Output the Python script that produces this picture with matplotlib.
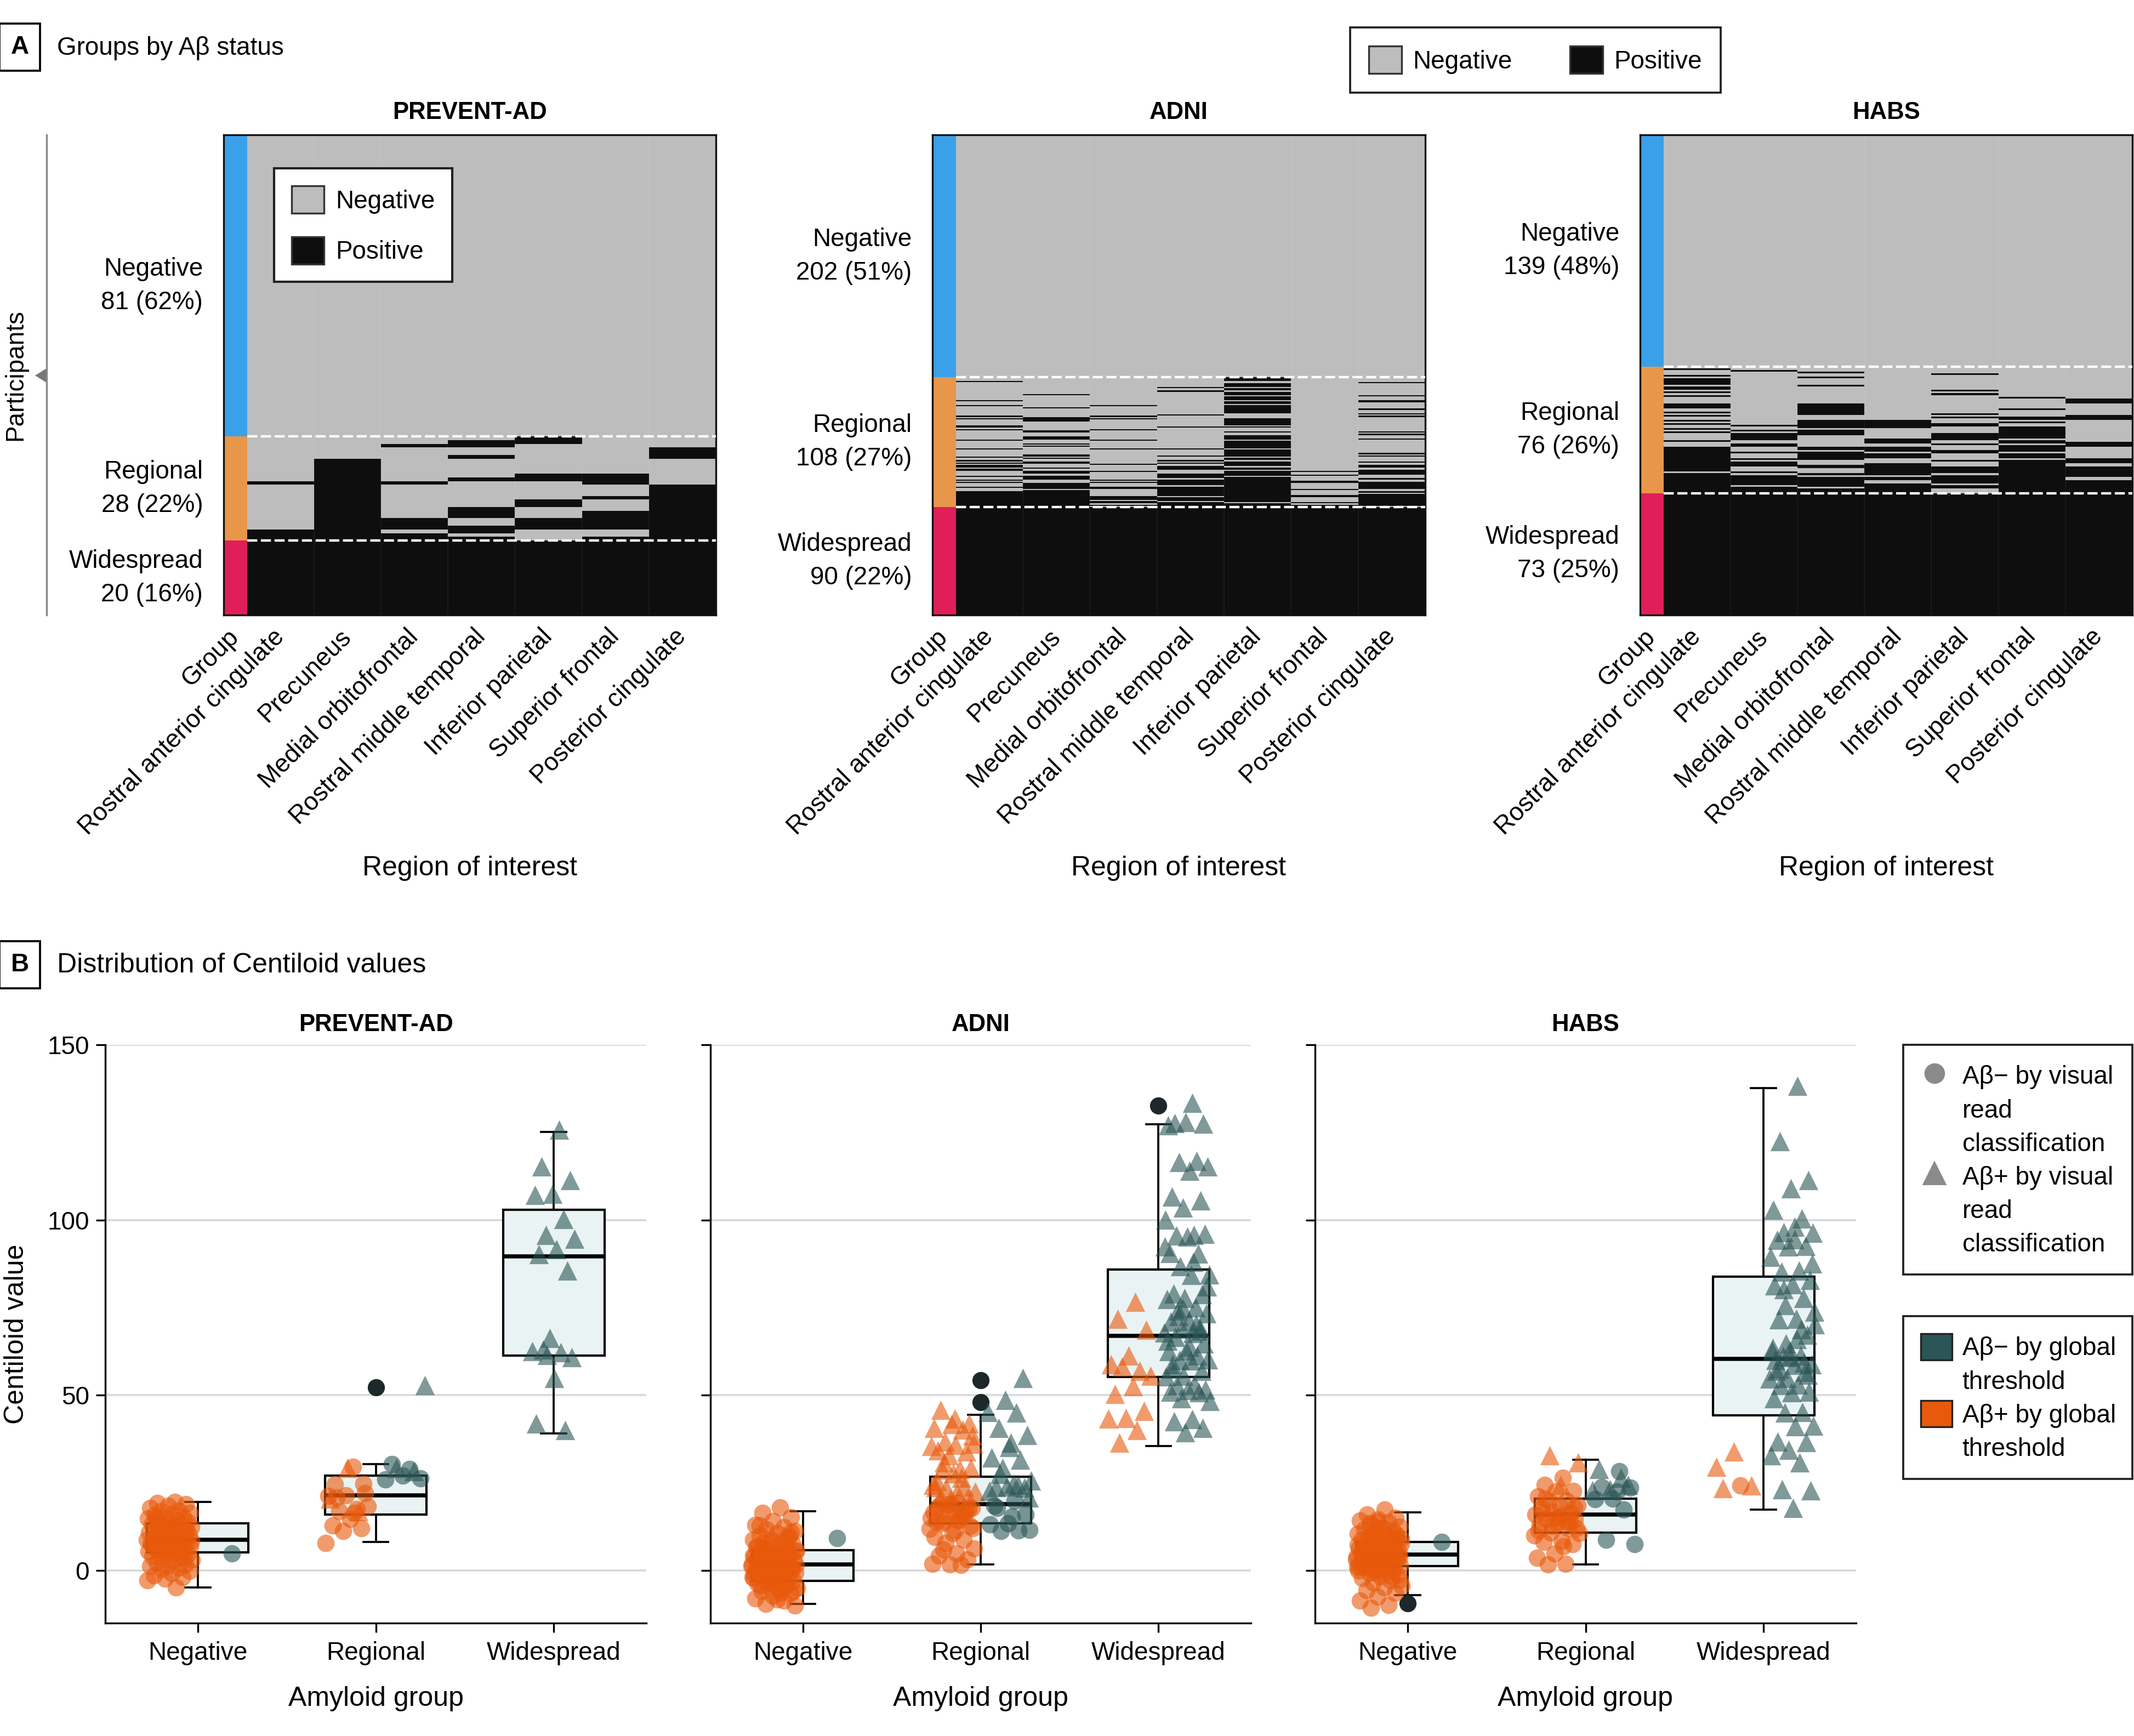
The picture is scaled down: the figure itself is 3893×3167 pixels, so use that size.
import numpy as np
import matplotlib
matplotlib.use("Agg")
import matplotlib.pyplot as plt
import matplotlib.transforms as mtransforms
from matplotlib.colors import ListedColormap, BoundaryNorm
from matplotlib.patches import Patch, Polygon
from matplotlib.lines import Line2D

# ======================= DATA =======================
REGIONS = ["Rostral anterior cingulate", "Precuneus", "Medial orbitofrontal",
           "Rostral middle temporal", "Inferior parietal", "Superior frontal",
           "Posterior cingulate"]
HEAT_XLABELS = ["Group"] + REGIONS
AMYLOID_GROUPS = ["Negative", "Regional", "Widespread"]
COHORTS = ["PREVENT-AD", "ADNI", "HABS"]

# participants per amyloid group and the printed percentages
PA_GROUP_N = [81, 28, 20]
PA_GROUP_PCT = [62, 22, 16]
AD_GROUP_N = [202, 108, 90]
AD_GROUP_PCT = [51, 27, 22]
HB_GROUP_N = [139, 76, 73]
HB_GROUP_PCT = [48, 26, 25]

# Regional-group rows (0 = first regional participant) that are positive, per region
PA_REGIONAL_POS = [
    [12, (25, 27)],
    [(6, 27)],
    [2, 12, (22, 24), (26, 27)],
    [(1, 2), 5, 11, (19, 21), (24, 25), 27],
    [(0, 1), (10, 11), (17, 18), (22, 24)],
    [(10, 12), 16, (20, 24), 27],
    [(3, 5), (13, 27)],
]
AD_REGIONAL_POS = [
    [3, 19, 23, 32, 34, (40, 41), 43, 52, 59, 66, 69, 71, 73, 74, (76, 77), 82, 85, 87, 91, (95, 107)],
    [14, 25, (33, 36), (44, 45), (49, 51), 55, 57, (64, 65), 67, (70, 71), 75, (78, 79), (82, 84),
     (88, 92), (94, 107)],
    [23, 32, 34, 43, 52, 59, 72, 78, 85, 87, (91, 92), (99, 101), (103, 104), 106],
    [8, 11, 31, 41, 59, 65, 69, 71, (74, 76), (80, 83), (85, 89), (91, 98), (100, 102), (104, 107)],
    [(0, 2), (5, 7), (9, 10), (12, 14), (16, 18), (20, 21), (23, 29), (34, 39), 41, 45, (48, 51),
     (53, 58), (60, 65), (67, 68), (70, 73), (75, 76), (78, 81), (83, 103), (105, 107)],
    [78, 81, 86, 87, 93, (98, 99), 104, (106, 107)],
    [4, 15, (19, 20), 26, 30, 32, 45, 47, 51, 63, 65, 70, (73, 74), (77, 80), 84, (87, 92), 95, (97, 106)],
]
HB_REGIONAL_POS = [
    [1, 5, (7, 10), (12, 13), 15, 17, (22, 24), 27, 29, 32, 34, 37, 39, 44, (48, 62), (64, 75)],
    [2, 35, 38, (40, 43), (46, 47), 51, 55, (57, 59), 63, (65, 70), (72, 75)],
    [3, 6, 11, (22, 28), (32, 36), (38, 40), (48, 49), (51, 55), (59, 60), 64, (66, 71), (73, 75)],
    [(32, 36), (43, 45), (48, 50), (52, 54), (58, 64), (66, 67), (70, 75)],
    [4, 14, 16, 28, 30, (34, 35), (40, 43), 46, (50, 51), 56, (60, 63), (65, 69), (71, 72)],
    [18, 25, (30, 31), 33, (36, 42), (44, 45), (47, 50), (52, 54), (56, 75)],
    [(19, 21), (29, 31), (45, 47), (55, 57), (60, 65), (68, 75)],
]

# ---- Centiloid values (OC/OT: orange circle/triangle, TC/TT: teal circle/triangle) ----
PA_NEG_OC = [19.6, 19.2, 18.9, 18.4, 17.8, 17.1, 16.9, 16.5, 16.2, 15.8, 15.4, 15.1, 14.8, 14.4,
             14.1, 13.9, 13.5, 13.2, 12.9, 12.5, 12.3, 12.0, 11.7, 11.4, 11.0, 10.8, 10.5, 10.2,
             10.0, 9.7, 9.5, 9.2, 9.0, 8.8, 8.6, 8.3, 8.1, 7.9, 7.6, 7.4, 7.1, 6.9, 6.6, 6.3, 6.1,
             5.8, 5.5, 5.2, 5.0, 4.7, 4.4, 4.1, 3.7, 3.4, 3.0, 2.6, 2.2, 1.8, 1.5, 1.2, 0.8, 0.3,
             -0.2, -0.8, -1.4, -1.9, -2.4, -2.8, -4.8, 13.0, 11.2, 9.4, 7.7, 6.0, 10.1, 8.4, 12.7,
             15.0, 3.6, 5.4]
PA_NEG_TC = [4.9]
PA_REG_OC = [29.6, 24.5, 24.8, 21.5, 21.3, 17.6, 16.9, 18.3, 14.7, 12.9, 12.0, 11.3, 7.9, 16.4,
             20.8, 22.0]
PA_REG_OT = [29.3, 20.5, 16.9]
PA_REG_TC = [28.9, 30.4, 26.3, 27.1, 26.0]
PA_REG_TT = [28.3, 29.3, 52.8]
PA_WID_TT = [125.8, 115.3, 111.3, 107.5, 107.1, 100.2, 95.8, 94.7, 91.7, 90.3, 85.6, 66.3, 62.5,
             62.2, 63.0, 60.8, 54.9, 42.0, 40.0, 61.5]

AD_NEG_OC = [18.0, 16.5, 15.2, 14.1, 13.0, 12.4, 11.8, 11.2, 10.7, 10.1, 9.6, 9.2, 8.8, 8.3, 7.9,
             7.5, 7.1, 6.8, 6.4, 6.0, 5.7, 5.3, 5.0, 4.7, 4.4, 4.1, 3.8, 3.5, 3.2, 2.9, 2.6, 2.3,
             2.0, 1.8, 1.5, 1.2, 0.9, 0.6, 0.3, 0.0, -0.3, -0.6, -0.9, -1.2, -1.5, -1.8, -2.1,
             -2.4, -2.7, -3.0, -3.4, -3.8, -4.2, -4.6, -5.0, -5.5, -6.0, -6.6, -7.2, -7.9, -8.6,
             -9.5, -10.0, 1.0, 2.4, 3.3, -0.5, -1.9, 4.6, 5.9, 0.4, -3.2, 6.7, 7.8, -2.6, 1.6, 2.8,
             -4.4, 9.9, 8.5, -1.0, 0.2, 3.9, -5.8, -0.1, 2.1, 4.9, -3.6, 1.3, -6.4, 6.2, 11.0,
             -2.0, 3.0, -1.4, 0.7, 5.5, -8.2, 12.8, 2.5, -0.8, 4.3, -4.9]
AD_NEG_TC = [9.2]
AD_REG_OC = [19.2, 18.6, 17.5, 19.0, 16.6, 15.3, 14.0, 12.1, 11.4, 18.0, 17.0, 16.0, 15.0, 14.6,
             13.4, 12.7, 10.6, 9.5, 8.8, 7.8, 6.2, 4.9, 4.3, 3.2, 1.7, 1.9, 1.6, 6.0, 17.8, 16.3,
             13.9, 15.8, 18.8, 11.9, 14.3]
AD_REG_OT = [45.8, 42.0, 41.8, 40.6, 40.2, 36.8, 36.1, 35.9, 34.2, 34.0, 32.9, 35.5, 29.0, 28.8,
             29.3, 27.7, 23.8, 24.0, 23.5, 22.5, 22.3, 20.5, 20.8, 20.3, 24.4, 26.4, 30.8, 38.5,
             43.3, 25.5]
AD_REG_TC = [19.9, 17.9, 16.0, 13.4, 13.2, 11.4, 11.2, 11.6, 15.3, 18.5]
AD_REG_TT = [54.9, 48.7, 45.2, 45.0, 40.6, 38.7, 35.2, 32.2, 31.6, 29.2, 25.7, 24.8, 23.8, 23.6,
             24.0, 22.7, 24.4, 27.5, 20.8, 36.5]
AD_WID_OT = [76.6, 71.8, 68.6, 61.4, 58.8, 56.9, 58.2, 55.6, 52.6, 50.4, 45.6, 43.5, 43.3, 40.0,
             36.4]
AD_WID_TT = [133.5, 127.7, 127.5, 127.9, 127.0, 116.9, 116.5, 115.3, 114.0, 106.6, 105.6, 103.6,
             100.1, 95.8, 95.6, 96.0, 95.2, 90.6, 90.4, 86.8, 84.5, 84.3, 79.0, 78.8, 77.7, 77.5,
             75.1, 74.2, 73.4, 71.2, 71.0, 69.2, 69.0, 67.9, 67.7, 66.6, 64.7, 62.7, 62.5, 61.4,
             60.1, 60.3, 59.9, 58.8, 56.9, 55.6, 55.4, 53.0, 52.8, 51.7, 51.5, 51.0, 50.8, 49.1,
             48.4, 43.2, 42.6, 40.6, 39.4, 65.5, 70.3, 72.6, 81.0, 63.8, 57.5, 68.4, 74.8, 92.5,
             88.0]

HB_NEG_OC = [17.3, 16.0, 15.1, 14.6, 14.2, 13.7, 13.1, 12.6, 12.2, 11.8, 11.3, 10.9, 10.5, 10.1,
             9.8, 9.4, 9.0, 8.7, 8.3, 8.0, 7.7, 7.4, 7.1, 6.8, 6.5, 6.2, 5.9, 5.6, 5.3, 5.0, 4.8,
             4.5, 4.2, 3.9, 3.6, 3.3, 3.0, 2.7, 2.4, 2.1, 1.8, 1.5, 1.2, 0.9, 0.6, 0.3, 0.0, -0.4,
             -0.8, -1.2, -1.7, -2.2, -2.8, -3.5, -4.3, -4.9, -5.6, -6.4, -7.5, -8.6, -9.8, -10.6,
             4.0, 6.0, 2.9, 8.5, 5.2, 1.0, 3.4, 7.0, 10.2, 0.4, 4.7, 6.6, 2.2, 9.1, 12.0, 3.8, 5.7,
             -0.6, 1.4, 7.9, 13.5, 4.4, 2.6, 6.3, -1.5, 11.0, 3.1, 5.4, 0.8, 8.9, 14.0, 2.0, 4.1,
             9.6, -2.6, 6.9, 3.7, 1.1, 5.1, 7.3]
HB_NEG_TC = [8.2]
HB_REG_OC = [26.4, 24.4, 22.7, 22.5, 21.2, 19.9, 19.7, 18.6, 18.4, 16.6, 16.4, 16.8, 16.0, 15.8,
             14.7, 14.5, 13.4, 13.2, 12.1, 10.8, 10.6, 8.4, 8.2, 7.5, 4.9, 3.6, 1.9, 1.7, 12.0,
             15.3, 17.9, 14.0, 12.7, 10.1, 6.9, 20.5, 18.0, 15.0, 11.5, 13.8]
HB_REG_OT = [32.9, 30.9, 24.4]
HB_REG_TC = [28.3, 23.8, 23.6, 20.5, 20.3, 17.3, 8.8, 7.5, 22.5]
HB_REG_TT = [29.0, 24.4, 23.1, 22.9, 26.4]
HB_WID_OC = [24.2]
HB_WID_OT = [23.5, 24.2, 33.9, 29.6]
HB_WID_TT = [138.3, 122.5, 111.4, 109.1, 103.0, 100.4, 96.5, 96.3, 94.5, 94.3, 92.6, 92.4, 89.4,
             85.5, 85.3, 82.9, 81.6, 81.4, 77.7, 75.7, 73.8, 71.8, 71.6, 67.3, 62.7, 62.5, 61.4,
             61.2, 58.8, 58.6, 56.9, 56.7, 54.9, 54.7, 53.0, 52.8, 51.0, 50.8, 49.1, 45.2, 45.0,
             41.3, 41.1, 36.8, 36.6, 34.4, 32.9, 30.9, 23.1, 22.9, 17.9, 60.0, 59.3, 64.8, 70.2,
             66.0, 57.5, 55.8, 60.8, 63.5, 68.8, 80.2, 87.6, 98.0]

# ---- Box statistics per amyloid group (Negative, Regional, Widespread) ----
PA_BOX_Q1 = [5.2, 16.0, 61.3]
PA_BOX_MED = [8.8, 21.5, 89.6]
PA_BOX_Q3 = [13.5, 27.1, 102.9]
PA_BOX_LO = [-4.8, 8.1, 39.1]
PA_BOX_HI = [19.5, 30.3, 125.2]
PA_FLIERS = [[], [52.2], []]

AD_BOX_Q1 = [-2.9, 13.4, 55.3]
AD_BOX_MED = [1.7, 19.0, 66.9]
AD_BOX_Q3 = [5.8, 26.8, 85.8]
AD_BOX_LO = [-9.6, 1.7, 35.5]
AD_BOX_HI = [16.9, 44.5, 127.3]
AD_FLIERS = [[], [54.3, 48.1], [132.6]]

HB_BOX_Q1 = [1.3, 10.8, 44.3]
HB_BOX_MED = [4.5, 16.0, 60.4]
HB_BOX_Q3 = [8.1, 20.5, 83.8]
HB_BOX_LO = [-7.0, 1.7, 17.3]
HB_BOX_HI = [16.6, 31.6, 137.7]
HB_FLIERS = [[-9.4], [], []]

Y_TICKS = [0, 50, 100, 150]

# ======================= STYLE =======================
plt.rcParams["font.family"] = ["Liberation Sans", "DejaVu Sans"]
GRAY = "#BDBDBD"
BLACK = "#0E0E0E"
GROUP_COLORS = ["#3AA0E9", "#E8964A", "#E01E5A"]
ORANGE = "#E8590C"
TEAL = "#2B5556"
BOXFACE = "#EAF3F3"
FLIER = "#1C2829"

W, H, DPI = 3893, 3167, 300
fig = plt.figure(figsize=(W / DPI, H / DPI), dpi=DPI)


def px_axes(x0, y0, x1, y1):
    return fig.add_axes([x0 / W, 1 - y1 / H, (x1 - x0) / W, (y1 - y0) / H])


def fx(x):
    return x / W


def fy(y):
    return 1 - y / H


# ======================= PANEL A =======================
def build_matrix(counts, regional):
    n_neg, n_reg, n_wid = counts
    n = n_neg + n_reg + n_wid
    M = np.zeros((n, 8))
    M[:n_neg, 0] = 2
    M[n_neg:n_neg + n_reg, 0] = 3
    M[n_neg + n_reg:, 0] = 4
    M[n_neg + n_reg:, 1:] = 1
    for j, ivs in enumerate(regional):
        for iv in ivs:
            a, b = (iv, iv) if isinstance(iv, int) else iv
            M[n_neg + a:n_neg + b + 1, j + 1] = 1
    return M


cmap = ListedColormap([GRAY, BLACK] + GROUP_COLORS)
norm = BoundaryNorm([-0.5, 0.5, 1.5, 2.5, 3.5, 4.5], cmap.N)
GW = 0.35
x_edges = np.concatenate([[0.0], GW + np.arange(0, 8)])
x_centers = (x_edges[:-1] + x_edges[1:]) / 2

heat_specs = [
    (COHORTS[0], PA_GROUP_N, PA_GROUP_PCT, PA_REGIONAL_POS, 408, 1306),
    (COHORTS[1], AD_GROUP_N, AD_GROUP_PCT, AD_REGIONAL_POS, 1701, 2600),
    (COHORTS[2], HB_GROUP_N, HB_GROUP_PCT, HB_REGIONAL_POS, 2992, 3890),
]
heat_axes = []
for name, counts, pcts, regional, x0, x1 in heat_specs:
    ax = px_axes(x0, 246, x1, 1122)
    heat_axes.append(ax)
    M = build_matrix(counts, regional)
    n = M.shape[0]
    yy = np.arange(n + 1)
    ax.pcolormesh(x_edges, yy, M, cmap=cmap, norm=norm, shading="flat",
                  edgecolors="none", antialiased=False)
    ax.vlines(x_edges[2:-1], 0, n, colors=(1, 1, 1, 0.06), linewidth=0.4, zorder=2)
    b1 = counts[0]
    b2 = counts[0] + counts[1]
    ax.hlines([b1, b2], GW, x_edges[-1], colors="white", linewidth=1.05,
              linestyles=(0, (4.2, 1.5)), zorder=3)
    ax.set_xlim(0, x_edges[-1])
    ax.set_ylim(n, 0)
    ax.set_yticks([])
    ax.set_xticks(x_centers)
    ax.set_xticklabels(HEAT_XLABELS, rotation=45, ha="right", va="center",
                       rotation_mode="anchor", fontsize=11)
    ax.tick_params(axis="x", length=0, pad=8)
    for s in ax.spines.values():
        s.set_linewidth(0.8)
        s.set_color("#111111")
    ax.set_title(name, fontsize=10.5, fontweight="bold", pad=7)
    trans = mtransforms.blended_transform_factory(ax.transAxes, ax.transData)
    starts = np.concatenate([[0], np.cumsum(counts)[:-1]])
    for g, c, p, st in zip(AMYLOID_GROUPS, counts, pcts, starts):
        ax.text(-0.042, st + c / 2, f"{g}\n{c} ({p}%)", transform=trans, ha="right",
                va="center", multialignment="right", fontsize=11, linespacing=1.5)
    fig.text(fx((x0 + x1) / 2), fy(1584), "Region of interest", ha="center", va="center",
             fontsize=12)

# legend inside PREVENT-AD heatmap
status_handles = [Patch(facecolor=GRAY, edgecolor="#333333", linewidth=0.8),
                  Patch(facecolor=BLACK, edgecolor="#333333", linewidth=0.8)]
heat_axes[0].legend(status_handles, ["Negative", "Positive"], loc="upper left",
                    bbox_to_anchor=(0.102, 0.93), borderaxespad=0, fontsize=11,
                    handlelength=1.3, handleheight=1.3, labelspacing=0.92,
                    handletextpad=0.45, borderpad=0.7, fancybox=False,
                    edgecolor="#222222", framealpha=1)
leg = fig.legend(status_handles, ["Negative", "Positive"], loc="upper left",
                 bbox_to_anchor=(fx(2463), fy(50)), borderaxespad=0, ncol=2, fontsize=11,
                 handlelength=1.3, handleheight=1.3, columnspacing=2.3,
                 handletextpad=0.45, borderpad=0.75, fancybox=False,
                 edgecolor="#222222", framealpha=1)
leg.get_frame().set_linewidth(0.9)

# Panel A heading
fig.text(fx(36), fy(86), "A", ha="center", va="center", fontsize=11, fontweight="bold",
         bbox=dict(boxstyle="square,pad=0.45", fc="white", ec="black", lw=0.9))
fig.text(fx(104), fy(88), "Groups by A\u03b2 status", ha="left", va="center", fontsize=11)

# Participants bracket
fig.add_artist(Line2D([fx(85), fx(85)], [fy(246), fy(1122)], color="#888888", lw=0.8))
fig.add_artist(Polygon([[fx(64), fy(685)], [fx(85), fy(672)], [fx(85), fy(698)]],
                       closed=True, facecolor="#777777", edgecolor="none",
                       transform=fig.transFigure))
fig.text(fx(28), fy(684), "Participants", rotation=90, ha="center", va="center", fontsize=11)

# ======================= PANEL B =======================
GOLDEN = 0.6180339887


def jitter_x(n, center, half):
    k = np.arange(1, n + 1)
    return center + (np.mod(k * GOLDEN, 1.0) - 0.5) * 2 * half


box_specs = [
    (COHORTS[0], 192, 1179,
     [PA_BOX_Q1, PA_BOX_MED, PA_BOX_Q3, PA_BOX_LO, PA_BOX_HI, PA_FLIERS],
     [(PA_NEG_OC, [], PA_NEG_TC, []),
      (PA_REG_OC, PA_REG_OT, PA_REG_TC, PA_REG_TT),
      ([], [], [], PA_WID_TT)], True),
    (COHORTS[1], 1296, 2282,
     [AD_BOX_Q1, AD_BOX_MED, AD_BOX_Q3, AD_BOX_LO, AD_BOX_HI, AD_FLIERS],
     [(AD_NEG_OC, [], AD_NEG_TC, []),
      (AD_REG_OC, AD_REG_OT, AD_REG_TC, AD_REG_TT),
      ([], AD_WID_OT, [], AD_WID_TT)], False),
    (COHORTS[2], 2399, 3386,
     [HB_BOX_Q1, HB_BOX_MED, HB_BOX_Q3, HB_BOX_LO, HB_BOX_HI, HB_FLIERS],
     [(HB_NEG_OC, [], HB_NEG_TC, []),
      (HB_REG_OC, HB_REG_OT, HB_REG_TC, HB_REG_TT),
      (HB_WID_OC, HB_WID_OT, [], HB_WID_TT)], False),
]

for name, x0, x1, bstats, points, first in box_specs:
    ax = px_axes(x0, 1906, x1, 2961)
    q1s, meds, q3s, los, his, fls = bstats
    stats = [dict(med=m, q1=a, q3=b, whislo=lo, whishi=hi, fliers=f)
             for m, a, b, lo, hi, f in zip(meds, q1s, q3s, los, his, fls)]
    ax.bxp(stats, positions=[0, 1, 2], widths=0.57, patch_artist=True, capwidths=0.14,
           boxprops=dict(facecolor=BOXFACE, edgecolor="black", linewidth=1.0),
           medianprops=dict(color="black", linewidth=1.8),
           whiskerprops=dict(color="black", linewidth=0.9),
           capprops=dict(color="black", linewidth=0.9),
           flierprops=dict(marker="o", markerfacecolor=FLIER, markeredgecolor="none",
                           markersize=7.5),
           zorder=2)
    for gi, (oc, ot, tc, tt) in enumerate(points):
        has_o = len(oc) + len(ot) > 0
        has_t = len(tc) + len(tt) > 0
        both = has_o and has_t
        for color, circ, tri, off in [(ORANGE, oc, ot, -0.16), (TEAL, tc, tt, 0.16)]:
            vals = list(circ) + list(tri)
            if not vals:
                continue
            xs = jitter_x(len(vals), gi + (off if both else 0.0), 0.13)
            nc = len(circ)
            if nc:
                ax.scatter(xs[:nc], circ, marker="o", s=58, c=color, alpha=0.6,
                           linewidths=0, zorder=3)
            if tri:
                ax.scatter(xs[nc:], tri, marker="^", s=72, c=color, alpha=0.6,
                           linewidths=0, zorder=3)
    ax.set_xlim(-0.52, 2.52)
    ax.set_ylim(-15, 150)
    ax.set_yticks(Y_TICKS)
    ax.yaxis.grid(True, color="#DADADA", linewidth=0.9)
    ax.set_axisbelow(True)
    ax.set_xticks([0, 1, 2])
    ax.set_xticklabels(AMYLOID_GROUPS)
    for s in ["top", "right"]:
        ax.spines[s].set_visible(False)
    for s in ["left", "bottom"]:
        ax.spines[s].set_linewidth(0.8)
        ax.spines[s].set_color("black")
    ax.tick_params(axis="both", length=4, width=0.8, labelsize=11, pad=3)
    ax.tick_params(axis="x", pad=4)
    if not first:
        ax.tick_params(axis="y", labelleft=False)
    else:
        ax.set_ylabel("Centiloid value", fontsize=12, labelpad=8)
    ax.set_xlabel("Amyloid group", fontsize=12, labelpad=9)
    ax.set_title(name, fontsize=10.5, fontweight="bold", pad=6)

# Panel B heading
fig.text(fx(36), fy(1760), "B", ha="center", va="center", fontsize=11, fontweight="bold",
         bbox=dict(boxstyle="square,pad=0.45", fc="white", ec="black", lw=0.9))
fig.text(fx(104), fy(1761), "Distribution of Centiloid values", ha="left", va="center",
         fontsize=12)

# Panel B legends
blank = Line2D([], [], linestyle="none")
mk_handles = [Line2D([], [], marker="o", linestyle="none", color="#8A8A8A", markersize=8),
              blank, blank,
              Line2D([], [], marker="^", linestyle="none", color="#8A8A8A", markersize=9),
              blank, blank]
mk_labels = ["A\u03b2\u2212 by visual", "read", "classification",
             "A\u03b2+ by visual", "read", "classification"]
leg1 = fig.legend(mk_handles, mk_labels, loc="upper left",
                  bbox_to_anchor=(fx(3472), fy(1906), fx(3890) - fx(3472), 0.0001),
                  mode="expand", borderaxespad=0, fontsize=11, handlelength=1.1,
                  handleheight=1.25, labelspacing=0.25, handletextpad=0.55, borderpad=0.7,
                  fancybox=False, edgecolor="#222222", framealpha=1)
leg1.get_frame().set_linewidth(0.9)

th_handles = [Patch(facecolor=TEAL, edgecolor="#222222", linewidth=0.8), blank,
              Patch(facecolor=ORANGE, edgecolor="#222222", linewidth=0.8), blank]
th_labels = ["A\u03b2\u2212 by global", "threshold", "A\u03b2+ by global", "threshold"]
leg2 = fig.legend(th_handles, th_labels, loc="upper left",
                  bbox_to_anchor=(fx(3472), fy(2401), fx(3890) - fx(3472), 0.0001),
                  mode="expand", borderaxespad=0, fontsize=11, handlelength=1.25,
                  handleheight=1.25, labelspacing=0.25, handletextpad=0.4, borderpad=0.7,
                  fancybox=False, edgecolor="#222222", framealpha=1)
leg2.get_frame().set_linewidth(0.9)

fig.savefig("out.png", dpi=DPI)
